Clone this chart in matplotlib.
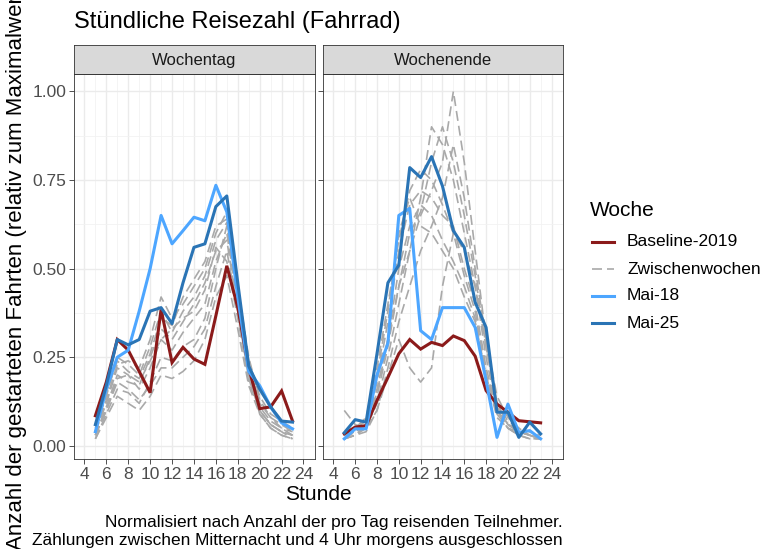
import matplotlib
matplotlib.use("Agg")
import matplotlib.pyplot as plt
from matplotlib.lines import Line2D

plt.rcParams['font.family'] = ['Liberation Sans', 'DejaVu Sans']

hours = list(range(5, 24))
facets = ["Wochentag", "Wochenende"]

# Weekday series
wd_baseline = [0.085, 0.18, 0.30, 0.27, 0.21, 0.15, 0.385, 0.235, 0.278, 0.245, 0.23, 0.367, 0.508, 0.39, 0.22, 0.105, 0.11, 0.155, 0.07]
wd_mai18 = [0.04, 0.16, 0.25, 0.27, 0.38, 0.50, 0.65, 0.57, 0.607, 0.645, 0.635, 0.735, 0.66, 0.42, 0.21, 0.17, 0.11, 0.065, 0.048]
wd_mai25 = [0.06, 0.17, 0.30, 0.285, 0.30, 0.38, 0.39, 0.345, 0.46, 0.56, 0.57, 0.675, 0.705, 0.46, 0.225, 0.16, 0.11, 0.07, 0.067]
wd_between = [
    [0.03, 0.10, 0.18, 0.16, 0.13, 0.17, 0.22, 0.22, 0.25, 0.28, 0.33, 0.45, 0.55, 0.38, 0.20, 0.10, 0.06, 0.04, 0.03],
    [0.02, 0.08, 0.14, 0.12, 0.10, 0.14, 0.20, 0.19, 0.21, 0.24, 0.30, 0.42, 0.48, 0.33, 0.17, 0.09, 0.05, 0.03, 0.02],
    [0.04, 0.12, 0.22, 0.20, 0.16, 0.22, 0.30, 0.27, 0.32, 0.36, 0.40, 0.52, 0.60, 0.40, 0.22, 0.11, 0.07, 0.05, 0.03],
    [0.05, 0.14, 0.25, 0.23, 0.20, 0.28, 0.38, 0.32, 0.38, 0.42, 0.48, 0.58, 0.63, 0.43, 0.23, 0.12, 0.08, 0.05, 0.04],
    [0.03, 0.11, 0.20, 0.18, 0.17, 0.25, 0.33, 0.30, 0.35, 0.40, 0.46, 0.55, 0.58, 0.38, 0.19, 0.10, 0.06, 0.04, 0.02],
    [0.04, 0.13, 0.23, 0.24, 0.22, 0.30, 0.42, 0.36, 0.40, 0.45, 0.50, 0.60, 0.66, 0.45, 0.25, 0.13, 0.08, 0.06, 0.04],
    [0.02, 0.09, 0.16, 0.15, 0.12, 0.18, 0.25, 0.24, 0.28, 0.30, 0.36, 0.50, 0.62, 0.42, 0.21, 0.09, 0.05, 0.03, 0.02],
    [0.03, 0.10, 0.19, 0.20, 0.18, 0.24, 0.30, 0.33, 0.36, 0.38, 0.44, 0.56, 0.52, 0.36, 0.18, 0.10, 0.06, 0.04, 0.03],
    [0.06, 0.15, 0.24, 0.21, 0.19, 0.26, 0.36, 0.34, 0.42, 0.47, 0.52, 0.62, 0.64, 0.44, 0.24, 0.14, 0.09, 0.07, 0.05],
]

# Weekend series
we_baseline = [0.034, 0.053, 0.057, 0.128, 0.193, 0.26, 0.30, 0.273, 0.292, 0.283, 0.31, 0.297, 0.253, 0.156, 0.118, 0.095, 0.071, 0.068, 0.065]
we_mai18 = [0.02, 0.048, 0.048, 0.20, 0.29, 0.65, 0.67, 0.325, 0.30, 0.39, 0.39, 0.39, 0.334, 0.184, 0.024, 0.118, 0.038, 0.043, 0.02]
we_mai25 = [0.037, 0.074, 0.067, 0.26, 0.46, 0.51, 0.785, 0.757, 0.816, 0.733, 0.607, 0.56, 0.405, 0.334, 0.095, 0.095, 0.024, 0.067, 0.034]
we_between = [
    [0.03, 0.04, 0.06, 0.15, 0.30, 0.45, 0.55, 0.65, 0.72, 0.80, 1.00, 0.80, 0.55, 0.30, 0.12, 0.06, 0.04, 0.03, 0.02],
    [0.02, 0.03, 0.05, 0.12, 0.25, 0.40, 0.55, 0.70, 0.90, 0.85, 0.75, 0.60, 0.45, 0.25, 0.10, 0.05, 0.03, 0.02, 0.02],
    [0.10, 0.06, 0.05, 0.10, 0.22, 0.35, 0.45, 0.55, 0.62, 0.70, 0.85, 0.70, 0.50, 0.30, 0.14, 0.08, 0.05, 0.03, 0.02],
    [0.02, 0.04, 0.06, 0.18, 0.35, 0.55, 0.68, 0.72, 0.70, 0.65, 0.62, 0.50, 0.40, 0.22, 0.10, 0.06, 0.04, 0.03, 0.02],
    [0.03, 0.05, 0.07, 0.20, 0.38, 0.60, 0.70, 0.62, 0.60, 0.55, 0.50, 0.42, 0.35, 0.20, 0.08, 0.05, 0.03, 0.02, 0.02],
    [0.02, 0.03, 0.04, 0.10, 0.20, 0.30, 0.22, 0.18, 0.22, 0.45, 0.60, 0.55, 0.45, 0.28, 0.12, 0.07, 0.05, 0.04, 0.03],
    [0.04, 0.05, 0.08, 0.22, 0.40, 0.58, 0.72, 0.78, 0.75, 0.68, 0.60, 0.48, 0.38, 0.20, 0.09, 0.05, 0.04, 0.03, 0.02],
    [0.03, 0.04, 0.05, 0.14, 0.28, 0.45, 0.60, 0.66, 0.80, 0.90, 0.80, 0.65, 0.48, 0.28, 0.11, 0.06, 0.04, 0.03, 0.02],
    [0.02, 0.03, 0.06, 0.16, 0.30, 0.50, 0.62, 0.68, 0.65, 0.58, 0.52, 0.45, 0.36, 0.20, 0.10, 0.06, 0.05, 0.04, 0.03],
]

series_names = ["Baseline-2019", "Zwischenwochen", "Mai-18", "Mai-25"]
colors = {"Baseline-2019": "#8B1A1A", "Zwischenwochen": "#A9A9A9", "Mai-18": "#4DA6FF", "Mai-25": "#2A74B5"}
xticks = [4, 6, 8, 10, 12, 14, 16, 18, 20, 22, 24]
yticks = [0.0, 0.25, 0.5, 0.75, 1.0]
ytick_labels = ["0.00", "0.25", "0.50", "0.75", "1.00"]

W, H = 761, 549
fig = plt.figure(figsize=(W / 100, H / 100), dpi=100)

def fx(px):
    return px / W

def fy(py):
    return 1 - py / H

panel_top, panel_bot = 74, 459
strip_top = 45
panels_x = [(74, 315), (323, 563)]
data = [
    (wd_baseline, wd_between, wd_mai18, wd_mai25),
    (we_baseline, we_between, we_mai18, we_mai25),
]

for i, ((x0, x1), facet, (base, between, m18, m25)) in enumerate(zip(panels_x, facets, data)):
    ax = fig.add_axes([fx(x0), fy(panel_bot), fx(x1 - x0), (panel_bot - panel_top) / H])
    ax.set_xlim(3.05, 25.05)
    ax.set_ylim(-0.037, 1.049)
    ax.set_facecolor("white")
    # grid
    for h in range(4, 25):
        ax.axvline(h, color="#EBEBEB" if h % 2 == 0 else "#F2F2F2", lw=1.0 if h % 2 == 0 else 0.6, zorder=0)
    for v in [0, 0.25, 0.5, 0.75, 1.0]:
        ax.axhline(v, color="#EBEBEB", lw=1.0, zorder=0)
    for v in [0.125, 0.375, 0.625, 0.875]:
        ax.axhline(v, color="#F2F2F2", lw=0.6, zorder=0)
    for wk in between:
        ax.plot(hours, wk, color=colors["Zwischenwochen"], lw=1.2, dashes=(6, 3), zorder=2)
    ax.plot(hours, base, color=colors["Baseline-2019"], lw=2.2, zorder=3, solid_joinstyle="miter")
    ax.plot(hours, m18, color=colors["Mai-18"], lw=2.2, zorder=4)
    ax.plot(hours, m25, color=colors["Mai-25"], lw=2.2, zorder=5)
    for s in ax.spines.values():
        s.set_color("#333333")
        s.set_linewidth(0.6)
    ax.set_xticks(xticks)
    ax.set_xticklabels([str(t) for t in xticks])
    ax.set_yticks(yticks)
    if i == 0:
        ax.set_yticklabels(ytick_labels)
    else:
        ax.set_yticklabels([])
        ax.tick_params(axis="y", length=0)
    ax.tick_params(axis="both", colors="#333333", labelcolor="#4D4D4D", labelsize=12.5, length=3.5, width=0.6, pad=2)
    ax.grid(False)
    # strip
    sax = fig.add_axes([fx(x0), fy(panel_top), fx(x1 - x0), (panel_top - strip_top) / H])
    sax.set_facecolor("#D9D9D9")
    sax.set_xticks([])
    sax.set_yticks([])
    for s in sax.spines.values():
        s.set_color("#333333")
        s.set_linewidth(0.6)
    sax.text(0.5, 0.48, facet, ha="center", va="center", fontsize=12, color="#1A1A1A", transform=sax.transAxes)

fig.text(fx(74), fy(22), "Stündliche Reisezahl (Fahrrad)", fontsize=17, ha="left", va="center", color="black")
fig.text(fx(318), fy(495), "Stunde", fontsize=15, ha="center", va="center", color="black")
fig.text(fx(17), fy(266), "Anzahl der gestarteten Fahrten (relativ zum Maximalwert)", fontsize=16,
         rotation=90, ha="center", va="center", color="black")
fig.text(fx(563), fy(522), "Normalisiert nach Anzahl der pro Tag reisenden Teilnehmer.", fontsize=12.4,
         ha="right", va="center", color="black")
fig.text(fx(563), fy(541), "Zählungen zwischen Mitternacht und 4 Uhr morgens ausgeschlossen", fontsize=12.4,
         ha="right", va="center", color="black")

# legend
fig.text(fx(590), fy(210), "Woche", fontsize=15, ha="left", va="center", color="black")
leg_y = [242, 269, 296, 323]
for name, ly in zip(series_names, leg_y):
    if name == "Zwischenwochen":
        ln = Line2D([fx(592), fx(614)], [fy(ly), fy(ly)], transform=fig.transFigure, color=colors[name], lw=1.2, dashes=(6, 3))
    else:
        ln = Line2D([fx(592), fx(614)], [fy(ly), fy(ly)], transform=fig.transFigure, color=colors[name], lw=2.2)
    fig.add_artist(ln)
    fig.text(fx(627), fy(ly), name, fontsize=12.5, ha="left", va="center", color="black")

fig.savefig("out.png", dpi=100)
